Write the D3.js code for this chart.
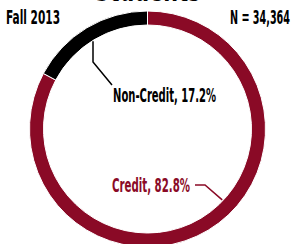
<!DOCTYPE html>
<html>
<head>
<meta charset="utf-8">
<script src="https://cdn.jsdelivr.net/npm/d3@7"></script>
<style>
body { margin: 0; background: #fff; }
svg { display: block; }
text { font-family: "Liberation Sans Narrow", "DejaVu Sans Condensed", "Roboto", sans-serif; }
</style>
</head>
<body>
<div id="chart"></div>
<script>
'use strict';

var categories = ['Credit', 'Non-Credit'];
var shares = [82.8, 17.2];
var colors = ['#8a0a26', '#000000'];
var term = 'Fall 2013';
var total = 'N = 34,364';
var title = 'Students';

var width = 295, height = 244;
var cx = 147.5, cy = 129;
var rOuter = 118, rInner = 104;

var svg = d3.select('#chart').append('svg')
	.attr('width', width)
	.attr('height', height);

// title is cut off at top in the source picture
svg.append('text')
	.attr('x', cx)
	.attr('y', 1)
	.attr('text-anchor', 'middle')
	.attr('font-weight', 'bold')
	.attr('font-size', 30)
	.attr('textLength', 106)
	.attr('lengthAdjust', 'spacingAndGlyphs')
	.text(title);

svg.append('text')
	.attr('x', 6)
	.attr('y', 24)
	.attr('font-size', 19)
	.attr('font-weight', 'bold')
	.attr('textLength', 54)
	.attr('lengthAdjust', 'spacingAndGlyphs')
	.text(term);

svg.append('text')
	.attr('x', 290)
	.attr('y', 24)
	.attr('text-anchor', 'end')
	.attr('font-size', 19)
	.attr('font-weight', 'bold')
	.attr('textLength', 60)
	.attr('lengthAdjust', 'spacingAndGlyphs')
	.text(total);

var pie = d3.pie().sort(null).value(function (d) { return d; });
var arc = d3.arc().innerRadius(rInner).outerRadius(rOuter);

var g = svg.append('g')
	.attr('transform', 'translate(' + cx + ',' + cy + ')');

var slices = pie(shares);
g.selectAll('path')
	.data(slices)
	.enter()
	.append('path')
		.attr('d', arc)
		.attr('fill', function (d, i) { return colors[i]; })
		.attr('stroke', '#fff')
		.attr('stroke-width', 1);

// leader lines, anchored on the inner edge of each slice
function innerPoint(angle, r) {
	return [cx + r * Math.sin(angle), cy - r * Math.cos(angle)];
}

// Credit label
var pc = innerPoint(2.33, rInner - 1);
svg.append('polyline')
	.attr('points', [[pc[0], pc[1]], [205, 185], [195, 185]].join(' '))
	.attr('fill', 'none')
	.attr('stroke', colors[0])
	.attr('stroke-width', 1.5);
svg.append('text')
	.attr('x', 112)
	.attr('y', 192)
	.attr('font-size', 20)
	.attr('font-weight', 'bold')
	.attr('fill', colors[0])
	.attr('textLength', 78)
	.attr('lengthAdjust', 'spacingAndGlyphs')
	.text(categories[0] + ', ' + shares[0] + '%');

// Non-Credit label
var pn = innerPoint(-0.55, rInner - 1);
svg.append('polyline')
	.attr('points', [[93, pn[1]], [93, 62], [112, 85]].join(' '))
	.attr('fill', 'none')
	.attr('stroke', colors[1])
	.attr('stroke-width', 1.5);
svg.append('text')
	.attr('x', 113)
	.attr('y', 102)
	.attr('font-size', 20)
	.attr('font-weight', 'bold')
	.attr('textLength', 103)
	.attr('lengthAdjust', 'spacingAndGlyphs')
	.text(categories[1] + ', ' + shares[1] + '%');
</script>
</body>
</html>
